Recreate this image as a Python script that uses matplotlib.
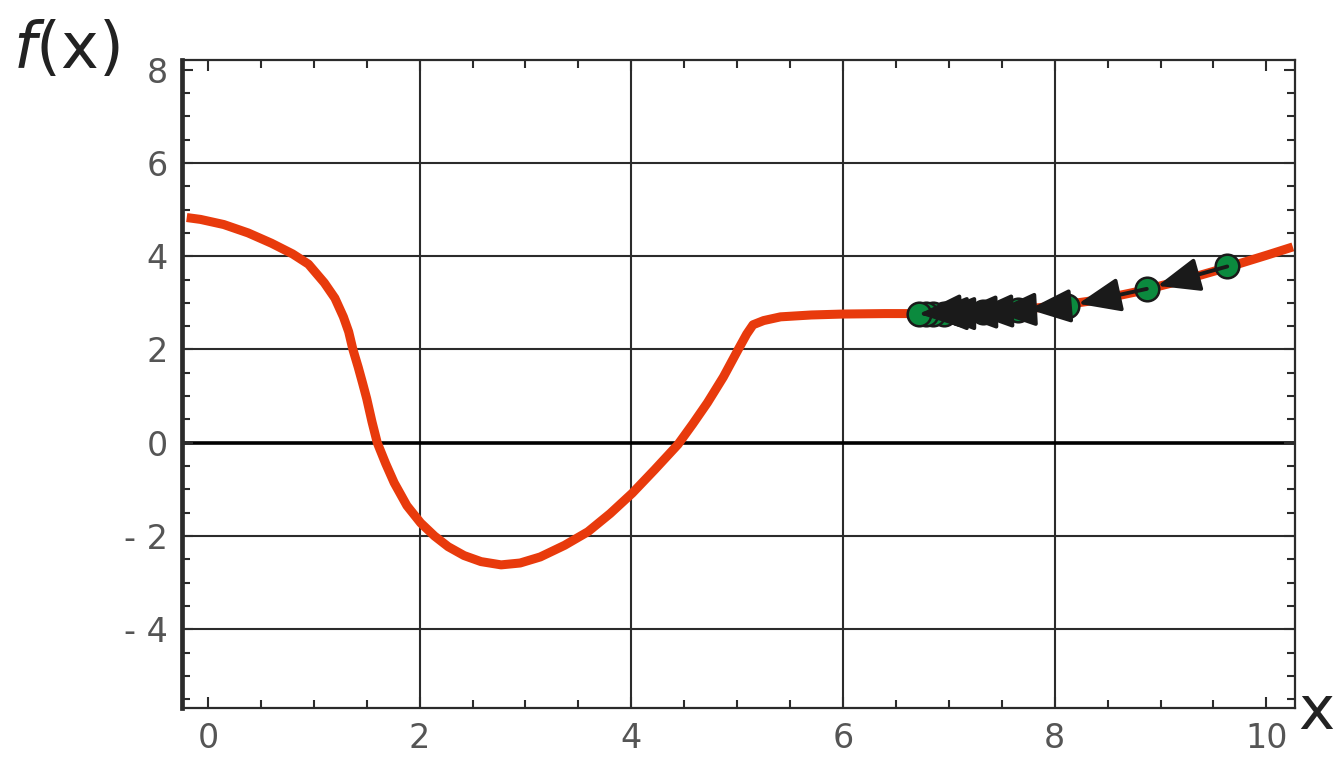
import numpy as np
import matplotlib.pyplot as plt
from matplotlib.ticker import MultipleLocator, FuncFormatter

# curve f(x)
curve_x = [-0.2, -0.07, 0.15, 0.38, 0.6, 0.8, 0.95, 1.1, 1.2, 1.28, 1.33, 1.37, 1.42,
           1.46, 1.5, 1.55, 1.6, 1.68, 1.76, 1.88, 2.01, 2.14, 2.27, 2.42, 2.58, 2.77, 2.95,
           3.14, 3.37, 3.59, 3.8, 4.01, 4.22, 4.44, 4.58, 4.72, 4.87, 5.01, 5.09, 5.15,
           5.25, 5.41, 5.7, 6.0, 6.4, 6.8, 7.2, 7.6, 8.0, 8.4, 8.8, 9.2, 9.6, 10.0, 10.25]
curve_y = [4.83, 4.79, 4.68, 4.5, 4.28, 4.05, 3.83, 3.43, 3.1, 2.7, 2.38, 2.0, 1.62,
           1.29, 0.95, 0.45, 0.0, -0.45, -0.86, -1.35, -1.72, -2.0, -2.23, -2.42, -2.55, -2.62, -2.58,
           -2.45, -2.2, -1.91, -1.52, -1.08, -0.58, -0.04, 0.4, 0.86, 1.41, 2.0, 2.33, 2.53,
           2.62, 2.7, 2.74, 2.76, 2.77, 2.77, 2.79, 2.84, 2.93, 3.06, 3.25, 3.48, 3.74, 4.02, 4.2]

# descent steps (green points, arrows go from one to the next)
step_x = [9.63, 8.87, 8.12, 7.65, 7.32, 7.1, 6.95, 6.85, 6.78, 6.72]
step_y = [3.78, 3.3, 2.93, 2.84, 2.8, 2.78, 2.77, 2.77, 2.77, 2.76]

fig = plt.figure(figsize=(13.36, 7.59), dpi=100)
ax = fig.add_axes([0.1362, 0.0672, 0.8331, 0.8538])

ax.set_xlim(-0.245, 10.27)
ax.set_ylim(-5.69, 8.21)

for gx in [2, 4, 6, 8]:
    ax.axvline(gx, color='#2b2b2b', lw=1.5, zorder=1)
for gy in [-4, -2, 2, 4, 6]:
    ax.axhline(gy, color='#2b2b2b', lw=1.5, zorder=1)
ax.axhline(0, color='black', lw=2.6, zorder=1)

ax.plot(curve_x, curve_y, color='#e83a0c', lw=6.5, solid_capstyle='butt',
        solid_joinstyle='round', zorder=2)

for i in range(len(step_x) - 1):
    ax.annotate('', xy=(step_x[i + 1], step_y[i + 1]), xytext=(step_x[i], step_y[i]),
                arrowprops=dict(arrowstyle='-|>,head_length=2.6,head_width=1.05',
                                color='#1a1a1a', lw=2.8, shrinkA=0, shrinkB=8),
                zorder=4)
ax.plot(step_x, step_y, 'o', ms=17, mfc='#0b8a3e', mec='#1a1a1a', mew=1.8, zorder=3)

for side in ['top', 'right', 'bottom']:
    ax.spines[side].set_linewidth(1.6)
    ax.spines[side].set_color('#2b2b2b')
ax.spines['left'].set_linewidth(3.4)
ax.spines['left'].set_color('#2b2b2b')

ax.xaxis.set_major_locator(MultipleLocator(2))
ax.xaxis.set_minor_locator(MultipleLocator(0.5))
ax.yaxis.set_major_locator(MultipleLocator(2))
ax.yaxis.set_minor_locator(MultipleLocator(0.5))
ax.yaxis.set_major_formatter(FuncFormatter(lambda v, p: ('- %d' % -v) if v < 0 else '%d' % v))
ax.tick_params(which='both', direction='in', top=True, right=True, color='#2b2b2b')
ax.tick_params(which='major', length=8, width=1.5, labelsize=24, labelcolor='#555555', pad=10)
ax.tick_params(which='minor', length=6, width=1.5)

fig.text(0.01, 0.91, r'$f$(x)', fontsize=46, color='#222222', math_fontfamily='dejavusans')
fig.text(0.972, 0.04, 'x', fontsize=44, color='#222222')

plt.savefig('out.png', dpi=100)
